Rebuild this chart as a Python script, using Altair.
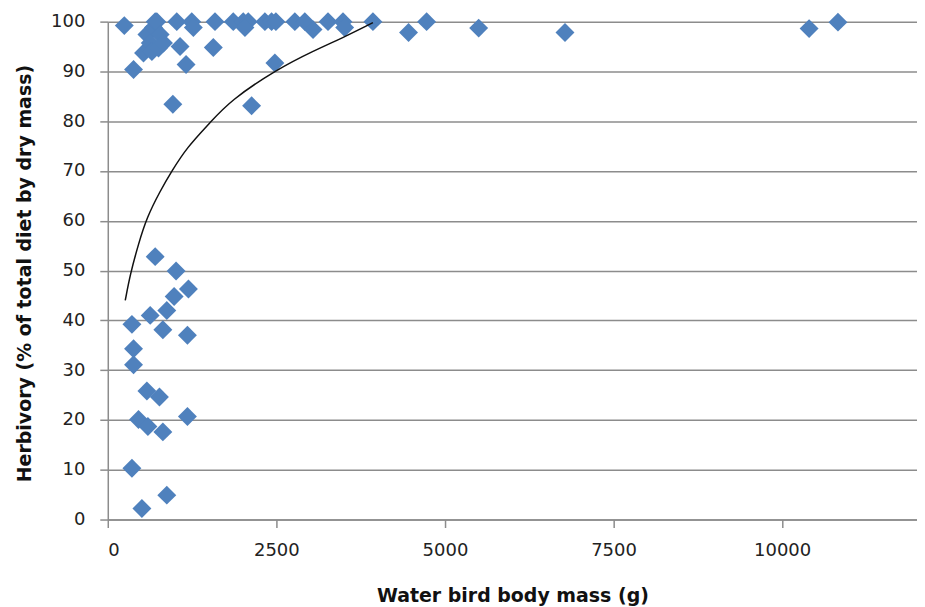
import altair as alt
import pandas as pd

# Water bird body mass (g)
mass = [245, 530, 580, 629, 654, 678, 703, 727, 752, 777, 826, 382, 965, 1023,
        1072, 1161, 1245, 1269, 1590, 1565, 1861, 2009, 2083, 2034, 2133, 2330,
        2429, 2493, 2478, 2774, 2922, 3044, 3266, 3488, 3513, 3932, 4460, 4728,
        5500, 6780, 10400, 10828,
        703, 1013, 1196, 984, 875, 629, 358, 817, 1181, 382, 382, 580, 766, 456,
        595, 817, 1181, 358, 875, 506]
# Herbivory (% of total diet by dry mass)
herb = [99.2, 93.7, 97.4, 95.7, 94.0, 98.8, 100, 100, 94.7, 97.4, 95.7, 90.4, 83.4, 100,
        95.0, 91.4, 100, 98.8, 100, 94.8, 100, 100, 100, 98.8, 83.1, 100,
        100, 100, 91.7, 100, 100, 98.4, 100, 100, 98.8, 100, 97.8, 100,
        98.7, 97.8, 98.6, 99.9,
        52.8, 49.9, 46.3, 44.8, 42.0, 41.0, 39.2, 38.1, 37.0, 34.3, 31.1, 25.8, 24.6, 20.1,
        18.7, 17.6, 20.7, 10.3, 4.9, 2.2]

# Trend line
trend_x = [259, 333, 456, 580, 777, 950, 1171, 1516, 1812, 2503, 3044, 3538, 3932]
trend_y = [44.0, 49.3, 55.4, 60.7, 66.0, 70.0, 74.7, 79.7, 84.1, 90.4, 94.1, 97.1, 99.8]

pts = pd.DataFrame({"mass": mass, "herb": herb})
trend = pd.DataFrame({"mass": trend_x, "herb": trend_y})

FONT = "DejaVu Sans"
GRID = "#8c8c8c"

xscale = alt.Scale(domain=[0, 12000], nice=False, zero=True)
yscale = alt.Scale(domain=[0, 100], nice=False)

xaxis = alt.Axis(
    title="Water bird body mass (g)", values=[0, 2500, 5000, 7500, 10000], format="d",
    grid=False, domainColor=GRID, domainWidth=1.5, tickColor=GRID, tickWidth=1.5,
    tickSize=8, labelFont=FONT, labelFontSize=18, labelColor="#222222",
    labelPadding=14, titleFont=FONT, titleFontSize=19, titleFontWeight="bold",
    titleColor="#111111", titleY=76, titleBaseline="middle",
)
yaxis = alt.Axis(
    title="Herbivory (% of total diet by dry mass)", values=list(range(0, 101, 10)),
    grid=True, gridColor=GRID, gridWidth=1.5, domainColor=GRID, domainWidth=1.5,
    tickColor=GRID, tickWidth=1.5, tickSize=8, labelFont=FONT, labelFontSize=18,
    labelColor="#222222", labelPadding=15, titleFont=FONT, titleFontSize=19,
    titleFontWeight="bold", titleColor="#111111", titleX=-83, titleY=252,
    titleAngle=270, titleBaseline="middle", titleAlign="center",
)

points = alt.Chart(pts).mark_point(
    shape="diamond", filled=True, size=360, color="#4F81BD", opacity=1
).encode(
    x=alt.X("mass:Q", scale=xscale, axis=xaxis),
    y=alt.Y("herb:Q", scale=yscale, axis=yaxis),
)

line = alt.Chart(trend).mark_line(
    color="#111111", strokeWidth=1.5, interpolate="basis"
).encode(
    x=alt.X("mass:Q", scale=xscale),
    y=alt.Y("herb:Q", scale=yscale),
)

chart = alt.layer(points, line).properties(
    width=811, height=499,
    autosize=alt.AutoSizeParams(type="none"),
    padding={"left": 100, "top": 13, "right": 0, "bottom": 86},
).configure_view(stroke=None).configure_axis(domain=True)

chart.save("out.html", embed_options={"renderer": "svg", "actions": False})
